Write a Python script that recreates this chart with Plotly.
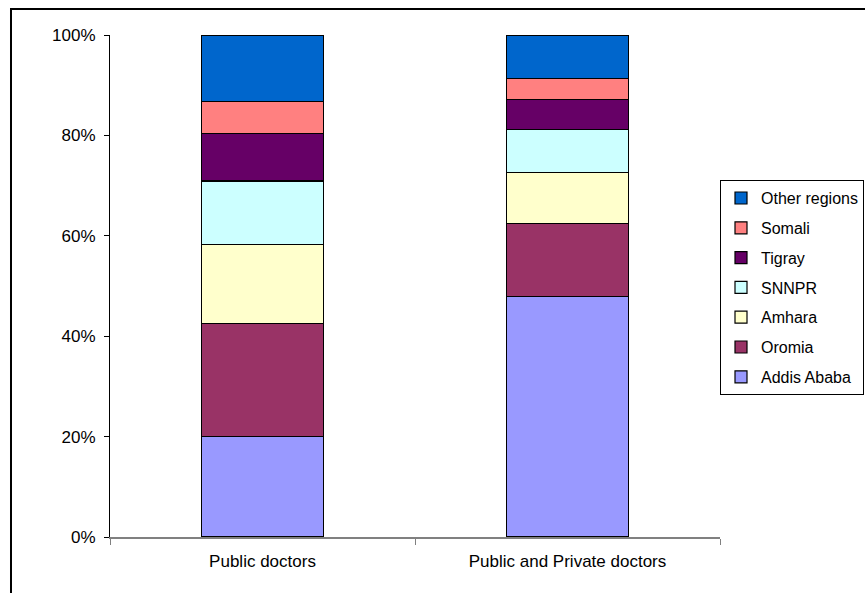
import plotly.graph_objects as go

categories = ["Public doctors", "Public and Private doctors"]
regions = ["Addis Ababa", "Oromia", "Amhara", "SNNPR", "Tigray", "Somali", "Other regions"]
addis = [0.201, 0.479]
oromia = [0.225, 0.146]
amhara = [0.156, 0.101]
snnpr = [0.127, 0.085]
tigray = [0.094, 0.060]
somali = [0.065, 0.042]
other = [0.132, 0.087]
series = [addis, oromia, amhara, snnpr, tigray, somali, other]
colors = ["#9999FF", "#993366", "#FFFFCC", "#CCFFFF", "#660066", "#FF8080", "#0066CC"]
ytick_vals = [0, 0.2, 0.4, 0.6, 0.8, 1.0]
ytick_text = ["0%", "20%", "40%", "60%", "80%", "100%"]

FONT = "Liberation Sans, Arial, sans-serif"

fig = go.Figure()
n = len(regions)
for i, (name, vals, col) in enumerate(zip(regions, series, colors)):
    fig.add_trace(go.Bar(
        x=categories, y=vals, name=name, legendgroup=name,
        legendrank=n - i,
        marker=dict(color=col, line=dict(color="#000000", width=1.2)),
    ))

fig.update_layout(
    width=865, height=593,
    barmode="stack", bargap=0.6,
    plot_bgcolor="white", paper_bgcolor="white",
    margin=dict(l=110, r=145, t=35, b=56, autoexpand=False),
    font=dict(family=FONT, size=15, color="#000000"),
    legend=dict(
        x=1.0, xanchor="left", y=0.711, yanchor="top",
        traceorder="grouped", tracegroupgap=6,
        bordercolor="#000000", borderwidth=1, bgcolor="white",
        font=dict(family=FONT, size=16, color="#000000"),
    ),
    xaxis=dict(
        showline=True, linecolor="#808080", linewidth=2,
        ticks="outside", tickson="boundaries", ticklen=6, tickcolor="#808080",
        showgrid=False, tickfont=dict(size=17), ticklabelstandoff=8,
    ),
    yaxis=dict(
        range=[0, 1], tickvals=ytick_vals, ticktext=ytick_text,
        showline=True, linecolor="#000000", linewidth=1,
        ticks="outside", ticklen=5, tickcolor="#000000",
        showgrid=False, zeroline=False, tickfont=dict(size=17),
        ticklabelstandoff=5,
    ),
    shapes=[dict(
        type="rect", xref="paper", yref="paper",
        x0=-0.1623, x1=1.4, y0=1.0518, y1=-0.3,
        line=dict(color="#000000", width=2), fillcolor="rgba(0,0,0,0)",
        layer="below",
    )],
)

fig.write_html("out.html")
